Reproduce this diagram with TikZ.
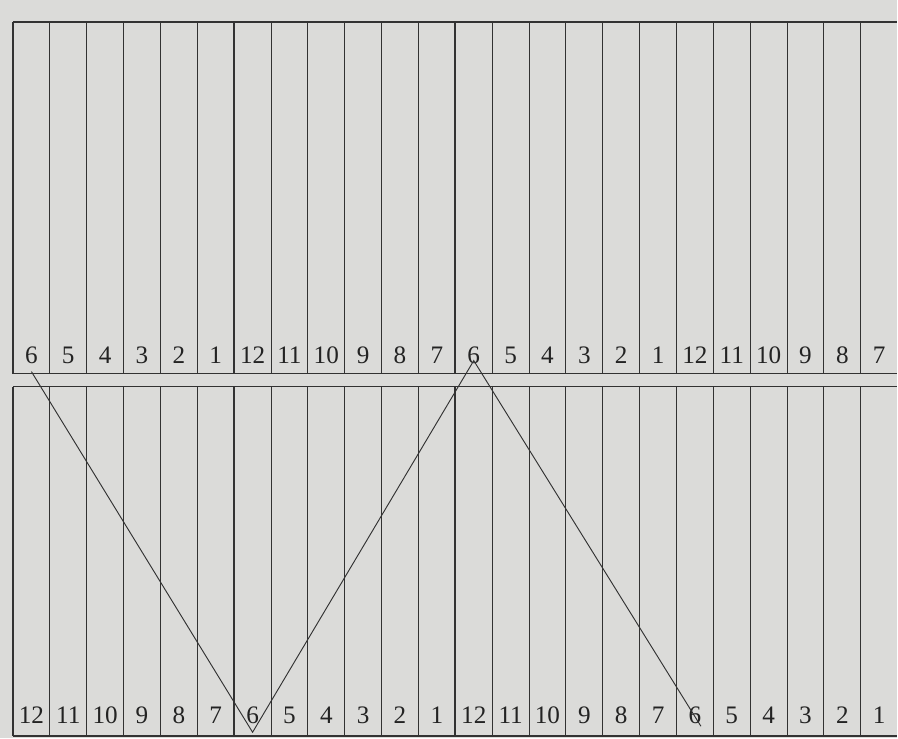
\documentclass[tikz,border=0pt]{standalone}
\usepackage{tikz}
\usepackage{fontspec}
\setmainfont{Liberation Serif}
\usetikzlibrary{calc}
\definecolor{paper}{RGB}{219,219,217}
\definecolor{ink}{RGB}{50,50,50}

\begin{document}
\begin{tikzpicture}[
  x=0.3mm, y=-0.3mm,
  thinrule/.style={ink, line width=0.8pt},
  grouprule/.style={ink, line width=1.6pt},
  numlabel/.style={text=ink!70!black, font=\fontsize{21.5}{24}\selectfont, inner sep=0pt},
  zig/.style={ink, line width=0.8pt}
]
  \fill[paper] (0,0) rectangle (898,739);
  % frame and the double rule between the two rows
  \draw[grouprule] (13,22) -- (898,22);
  \draw[grouprule] (13,737) -- (898,737);
  \draw[thinrule] (13,374) -- (898,374);
  \draw[thinrule] (13,387) -- (898,387);
  % column rules, heavier every sixth
  \foreach \k in {0,...,23} {
    \ifnum\numexpr\k-6*(\k/6)\relax=0
      \draw[grouprule] ({13+\k*36.9},22) -- ({13+\k*36.9},374);
      \draw[grouprule] ({13+\k*36.9},387) -- ({13+\k*36.9},737);
    \else
      \draw[thinrule] ({13+\k*36.9},22) -- ({13+\k*36.9},374);
      \draw[thinrule] ({13+\k*36.9},387) -- ({13+\k*36.9},737);
    \fi
  }
  % numbers
  \foreach \n [count=\i] in {6,5,4,3,2,1,12,11,10,9,8,7,6,5,4,3,2,1,12,11,10,9,8,7}
    \node[numlabel] (t\i) at ({13+(\i-0.5)*36.9},356) {\n};
  \foreach \n [count=\i] in {12,11,10,9,8,7,6,5,4,3,2,1,12,11,10,9,8,7,6,5,4,3,2,1}
    \node[numlabel] (b\i) at ({13+(\i-0.5)*36.9},716) {\n};
  % zigzag through the sixes
  \draw[zig] ($(t1)+(0,16)$) -- ($(b7)+(0,17)$) -- ($(t13)+(0,5)$) -- ($(b19)+(6,11)$);
\end{tikzpicture}
\end{document}
